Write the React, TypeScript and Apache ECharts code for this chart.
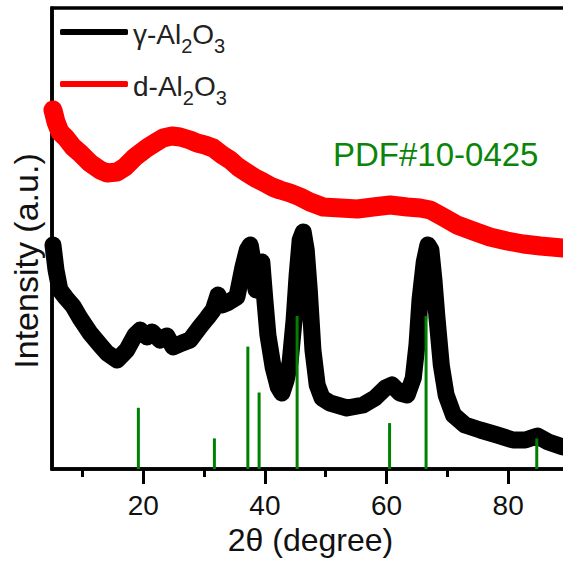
import React, { useEffect, useRef } from "react";
import * as echarts from "echarts";

// γ-Al2O3 pattern (2θ, intensity a.u.)
const blackX = [5.16, 5.66, 6.3, 7.3, 8.45, 9.6, 11.25, 12.9, 14.05, 15.7, 17.3, 18.65, 19.5, 20.6, 21.45, 22.75, 23.9, 24.9, 26.4, 27.7, 29.3, 30.5, 31.5, 32.3, 33.0, 33.8, 34.6, 35.4, 36.4, 37.1, 37.6, 38.05, 38.55, 39.05, 39.5, 40.0, 40.5, 41.35, 42.2, 42.8, 43.5, 44.15, 44.8, 45.3, 45.8, 46.3, 46.8, 47.3, 47.9, 48.6, 49.4, 50.7, 53.5, 56.15, 58.1, 59.8, 60.9, 62.2, 63.4, 64.4, 65.0, 65.5, 66.2, 66.8, 67.3, 67.8, 68.3, 69.0, 69.8, 71.0, 72.9, 75.4, 78.2, 80.8, 82.8, 84.8, 86.6, 89.0];
const blackY = [224, 199, 179, 171, 163, 151, 136, 124, 116, 109, 119, 134, 139, 132, 137, 129, 133, 122, 126, 129, 142, 151, 159, 174, 164, 166, 169, 172, 202, 219, 224, 207, 179, 189, 207, 169, 134, 102, 82, 76, 89, 107, 149, 194, 229, 237, 219, 179, 119, 84, 71, 66, 61, 64, 71, 81, 84, 76, 74, 91, 124, 169, 207, 224, 219, 189, 151, 104, 74, 54, 44, 39, 34, 29, 29, 33, 27, 22];

// d-Al2O3 pattern
const redX = [5.16, 5.66, 6.3, 7.3, 8.45, 9.6, 11.25, 12.9, 14.05, 15.7, 17.0, 18.65, 20.6, 21.9, 23.25, 24.7, 26.05, 27.7, 28.85, 30.15, 31.5, 33.0, 34.3, 35.6, 37.1, 38.4, 39.7, 41.2, 42.5, 44.15, 45.8, 47.4, 49.6, 52.4, 55.2, 57.8, 60.6, 63.4, 65.5, 67.2, 69.3, 71.6, 74.25, 77.0, 79.8, 82.5, 85.3, 89.0];
const redY = [359, 347, 337, 331, 322, 316, 306, 299, 296, 297, 302, 312, 321, 326, 331, 333, 332, 329, 326, 324, 321, 314, 309, 302, 296, 291, 287, 282, 279, 276, 272, 267, 262, 261, 260, 262, 264, 262, 261, 259, 252, 244, 238, 232, 228, 225, 223, 221];

// PDF#10-0425 reference lines
const stickPos = [19.2, 31.7, 37.2, 39.05, 45.3, 60.5, 66.5, 84.7];
const stickInt = [40, 20, 80, 50, 100, 30, 100, 20];

const majorTicks = [20, 40, 60, 80];
const minorTicks = [10, 30, 50, 70];

const seriesNames = ["γ-Al2O3", "d-Al2O3"];
const legendLabels: Record<string, string> = {
  "γ-Al2O3": "{a|γ-Al}{s|2}{a|O}{s|3}",
  "d-Al2O3": "{a|d-Al}{s|2}{a|O}{s|3}",
};

const FONT = "'Liberation Sans', Arial, sans-serif";

export default function App() {
  const ref = useRef<HTMLDivElement>(null);
  useEffect(() => {
    if (!ref.current) return;
    const chart = echarts.init(ref.current, undefined, { renderer: "svg" });
    const pairs = (xs: number[], ys: number[]) => xs.map((x, i) => [x, ys[i]]);
    chart.setOption({
      animation: false,
      textStyle: { fontFamily: FONT },
      grid: {
        left: 52,
        top: 8,
        right: -6,
        bottom: 94,
        containLabel: false,
        outerBoundsMode: "none",
        show: true,
        borderColor: "#000",
        borderWidth: 3.5,
      },
      legend: {
        orient: "vertical",
        left: 60,
        top: 8,
        padding: 0,
        itemGap: 4,
        itemWidth: 68,
        itemHeight: 6,
        icon: "roundRect",
        data: seriesNames,
        formatter: (n: string) => legendLabels[n],
        textStyle: {
          color: "#222",
          rich: {
            a: { fontSize: 28, lineHeight: 30, fontFamily: FONT, color: "#222", padding: [4, 0, 0, 0] },
            s: { fontSize: 20, lineHeight: 20, fontFamily: FONT, color: "#222", padding: [28, 0, 0, 0] },
          },
        },
      },
      xAxis: [
        {
          type: "value",
          min: 5,
          max: 90,
          position: "bottom",
          name: "2θ (degree)",
          nameLocation: "middle",
          nameGap: 55,
          nameTextStyle: { fontSize: 32, color: "#111", fontFamily: FONT },
          axisLine: { show: true, lineStyle: { color: "#000", width: 3.5 } },
          axisTick: { show: true, customValues: majorTicks, length: 15, lineStyle: { color: "#000", width: 3 } },
          axisLabel: { show: true, customValues: majorTicks, fontSize: 28, color: "#111", margin: 22, fontFamily: FONT },
          splitLine: { show: false },
        },
        {
          type: "value",
          min: 5,
          max: 90,
          position: "bottom",
          axisLine: { show: false },
          axisTick: { show: true, customValues: minorTicks, length: 8, lineStyle: { color: "#000", width: 3 } },
          axisLabel: { show: false },
          splitLine: { show: false },
        },
      ],
      yAxis: [
        {
          type: "value",
          min: 0,
          max: 461,
          name: "Intensity (a.u.)",
          nameLocation: "middle",
          nameRotate: 90,
          nameGap: 9,
          nameTextStyle: { fontSize: 34, color: "#111", fontFamily: FONT, padding: [0, 45, 0, 0] },
          axisLine: { show: true, lineStyle: { color: "#000", width: 3.5 } },
          axisTick: { show: false },
          axisLabel: { show: false },
          splitLine: { show: false },
        },
        { type: "value", min: 0, max: 301.3, show: false },
      ],
      series: [
        {
          name: seriesNames[0],
          type: "line",
          data: pairs(blackX, blackY),
          showSymbol: false,
          symbol: "none",
          lineStyle: { color: "#000", width: 17, join: "round", cap: "round" },
          itemStyle: { color: "#000" },
          z: 2,
        },
        {
          name: seriesNames[1],
          type: "line",
          data: pairs(redX, redY),
          showSymbol: false,
          symbol: "none",
          lineStyle: { color: "#ff0000", width: 19, join: "round", cap: "round" },
          itemStyle: { color: "#ff0000" },
          z: 2,
        },
        {
          name: "PDF#10-0425",
          type: "bar",
          xAxisIndex: 0,
          yAxisIndex: 1,
          data: pairs(stickPos, stickInt),
          barWidth: 3,
          itemStyle: { color: "#008000" },
          z: 3,
        },
      ],
      graphic: [
        {
          type: "text",
          left: 333,
          top: 138,
          style: { text: "PDF#10-0425", fontSize: 33, fill: "#0a850a", fontFamily: FONT },
        },
      ],
    });
    return () => chart.dispose();
  }, []);
  return (
    <div
      ref={ref}
      style={{ position: "fixed", left: 0, top: 0, width: 563, height: 563, background: "#fff" }}
    />
  );
}
